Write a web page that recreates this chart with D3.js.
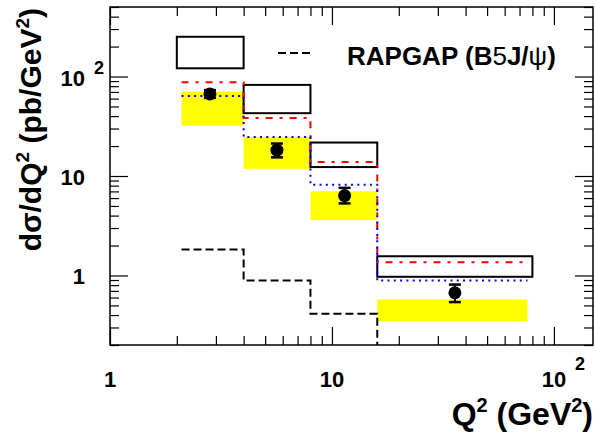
<!DOCTYPE html>
<html>
<head>
<meta charset="utf-8">
<script src="https://cdn.jsdelivr.net/npm/d3@7"></script>
<style>
  body { margin: 0; background: #fff; }
  svg { display: block; font-family: 'Liberation Sans', Arial, Helvetica, sans-serif; font-weight: bold; }
</style>
</head>
<body>
<div id="chart"></div>
<script>
// bin edges (Q^2, GeV^2)
const boxEdges = [2, 4, 8, 16, 80];
const lineEdges = [2.1, 4, 8, 16, 76];
// open black boxes
const boxLo = [121, 42.8, 12.3, 0.97];
const boxHi = [251, 82.4, 21.7, 1.56];
// yellow bands
const bandLo = [32.0, 11.8, 3.59, 0.348];
const bandHi = [70.6, 24.6, 7.01, 0.574];
// model histograms
const redVals = [87.7, 38.2, 13.8, 1.36];
const blueVals = [63.9, 24.6, 8.18, 0.89];
const rapgapVals = [1.82, 0.89, 0.413, 0.15];
// data points
const dataQ = [2.82, 5.65, 11.4, 35.8];
const dataVal = [66.9, 18.2, 6.35, 0.67];
const dataLo = [61, 15.4, 5.3, 0.54];
const dataHi = [73, 21.2, 7.6, 0.81];
// ticks
const xMajor = [1, 10, 100];
const xMinor = [2, 3, 4, 5, 6, 7, 8, 9, 20, 30, 40, 50, 60, 70, 80, 90];
const yMajor = [1, 10, 100];
const yMinor = [0.2, 0.3, 0.4, 0.5, 0.6, 0.7, 0.8, 0.9, 2, 3, 4, 5, 6, 7, 8, 9,
  20, 30, 40, 50, 60, 70, 80, 90, 200, 300, 400, 500];

const W = 595, H = 433;
const m = { left: 110, right: 2, top: 7, bottom: 88 };

const x = d3.scaleLog().domain([1, 150]).range([m.left, W - m.right]);
const y = d3.scaleLog().domain([0.2, 500]).range([H - m.bottom, m.top]);

const svg = d3.select('#chart').append('svg').attr('width', W).attr('height', H);

svg.append('clipPath').attr('id', 'plotClip')
  .append('rect')
  .attr('x', x.range()[0]).attr('y', y.range()[1])
  .attr('width', x.range()[1] - x.range()[0])
  .attr('height', y.range()[0] - y.range()[1]);

const plot = svg.append('g').attr('clip-path', 'url(#plotClip)');

const bins = d3.range(4);

// yellow bands
plot.append('g').selectAll('rect').data(bins).enter().append('rect')
  .attr('x', (i) => x(lineEdges[i]))
  .attr('width', (i) => x(lineEdges[i + 1]) - x(lineEdges[i]))
  .attr('y', (i) => y(bandHi[i]))
  .attr('height', (i) => y(bandLo[i]) - y(bandHi[i]))
  .attr('fill', '#ffff00');

// open boxes
plot.append('g').selectAll('rect').data(bins).enter().append('rect')
  .attr('x', (i) => x(boxEdges[i]))
  .attr('width', (i) => x(boxEdges[i + 1]) - x(boxEdges[i]))
  .attr('y', (i) => y(boxHi[i]))
  .attr('height', (i) => y(boxLo[i]) - y(boxHi[i]))
  .attr('fill', 'none')
  .attr('stroke', '#000')
  .attr('stroke-width', 2);

// step histograms
const stepPts = (vals) => {
  const pts = [];
  vals.forEach((v, i) => {
    pts.push([lineEdges[i], v]);
    pts.push([lineEdges[i + 1], v]);
  });
  return pts;
};
const step = d3.line().x((d) => x(d[0])).y((d) => y(d[1]));

plot.append('path').attr('d', step(stepPts(redVals)))
  .attr('fill', 'none').attr('stroke', '#ff0000').attr('stroke-width', 2)
  .attr('stroke-dasharray', '7,7,3,7');
plot.append('path').attr('d', step(stepPts(blueVals)))
  .attr('fill', 'none').attr('stroke', '#0000ff').attr('stroke-width', 2)
  .attr('stroke-dasharray', '2,4.3');
plot.append('path').attr('d', step(stepPts(rapgapVals)))
  .attr('fill', 'none').attr('stroke', '#000').attr('stroke-width', 2)
  .attr('stroke-dasharray', '8,4');

// data points with error bars
const pts = plot.append('g').selectAll('g').data(bins).enter().append('g');
pts.append('line')
  .attr('x1', (i) => x(dataQ[i])).attr('x2', (i) => x(dataQ[i]))
  .attr('y1', (i) => y(dataHi[i])).attr('y2', (i) => y(dataLo[i]))
  .attr('stroke', '#000').attr('stroke-width', 2);
[dataHi, dataLo].forEach((arr) => {
  pts.append('line')
    .attr('x1', (i) => x(dataQ[i]) - 6).attr('x2', (i) => x(dataQ[i]) + 6)
    .attr('y1', (i) => y(arr[i])).attr('y2', (i) => y(arr[i]))
    .attr('stroke', '#000').attr('stroke-width', 2.5);
});
pts.append('circle')
  .attr('cx', (i) => x(dataQ[i])).attr('cy', (i) => y(dataVal[i]))
  .attr('r', 6.5).attr('fill', '#000');

// axes (ticks inward on all four sides)
const axisG = svg.append('g').attr('class', 'axes');
const addAxis = (axis, tr, vals, size) => {
  const g = axisG.append('g').attr('transform', tr)
    .call(axis.tickValues(vals).tickSizeInner(size).tickSizeOuter(0).tickFormat(''));
  g.select('.domain').remove();
  g.selectAll('line').attr('stroke', '#000').attr('stroke-width', 1.2);
};
const yB = y.range()[0], yT = y.range()[1], xL = x.range()[0], xR = x.range()[1];
addAxis(d3.axisBottom(x), `translate(0,${yB})`, xMajor, -18);
addAxis(d3.axisBottom(x), `translate(0,${yB})`, xMinor, -9);
addAxis(d3.axisTop(x), `translate(0,${yT})`, xMajor, -18);
addAxis(d3.axisTop(x), `translate(0,${yT})`, xMinor, -9);
addAxis(d3.axisLeft(y), `translate(${xL},0)`, yMajor, -18);
addAxis(d3.axisLeft(y), `translate(${xL},0)`, yMinor, -9);
addAxis(d3.axisRight(y), `translate(${xR},0)`, yMajor, -18);
addAxis(d3.axisRight(y), `translate(${xR},0)`, yMinor, -9);

axisG.append('rect')
  .attr('x', xL).attr('y', yT).attr('width', xR - xL).attr('height', yB - yT)
  .attr('fill', 'none').attr('stroke', '#000').attr('stroke-width', 1.5);

// tick labels
const labelX = ['1', '10', '10'];
const labelXSup = ['', '', '2'];
xMajor.forEach((v, i) => {
  svg.append('text').attr('x', x(v)).attr('y', yB + 42)
    .attr('text-anchor', 'middle').attr('font-size', 22).text(labelX[i]);
  if (labelXSup[i]) {
    svg.append('text').attr('x', x(v) + 21).attr('y', yB + 25)
      .attr('font-size', 18).text(labelXSup[i]);
  }
});
yMajor.forEach((v, i) => {
  svg.append('text').attr('x', 85).attr('y', y(v) + 9)
    .attr('text-anchor', 'end').attr('font-size', 22).text(labelX[i]);
  if (labelXSup[i]) {
    svg.append('text').attr('x', 94).attr('y', y(v) - 3)
      .attr('font-size', 18).text(labelXSup[i]);
  }
});

// axis titles
const xt = svg.append('text').attr('x', W - 2).attr('y', 425)
  .attr('text-anchor', 'end').attr('font-size', 32);
xt.append('tspan').text('Q');
xt.append('tspan').attr('font-size', 20).attr('dy', -13).text('2');
xt.append('tspan').attr('dy', 13).text(' (GeV');
xt.append('tspan').attr('font-size', 20).attr('dy', -13).text('2');
xt.append('tspan').attr('dy', 13).text(')');

const yt = svg.append('text').attr('transform', 'translate(41,8) rotate(-90)')
  .attr('text-anchor', 'end').attr('font-size', 30);
yt.append('tspan').text('dσ/dQ');
yt.append('tspan').attr('font-size', 19).attr('dy', -12).text('2');
yt.append('tspan').attr('dy', 12).text(' (pb/GeV');
yt.append('tspan').attr('font-size', 19).attr('dy', -12).text('2');
yt.append('tspan').attr('dy', 12).text(')');

// legend
svg.append('line').attr('x1', 278).attr('x2', 312).attr('y1', 53).attr('y2', 53)
  .attr('stroke', '#000').attr('stroke-width', 2).attr('stroke-dasharray', '8,4');
const lt = svg.append('text').attr('x', 347).attr('y', 65).attr('font-size', 26);
lt.append('tspan').text('RAPGAP (B');
lt.append('tspan').attr('font-weight', 'normal').text('5');
lt.append('tspan').text('J/');
lt.append('tspan').attr('font-weight', 'normal').text('ψ');
lt.append('tspan').text(')');
</script>
</body>
</html>
